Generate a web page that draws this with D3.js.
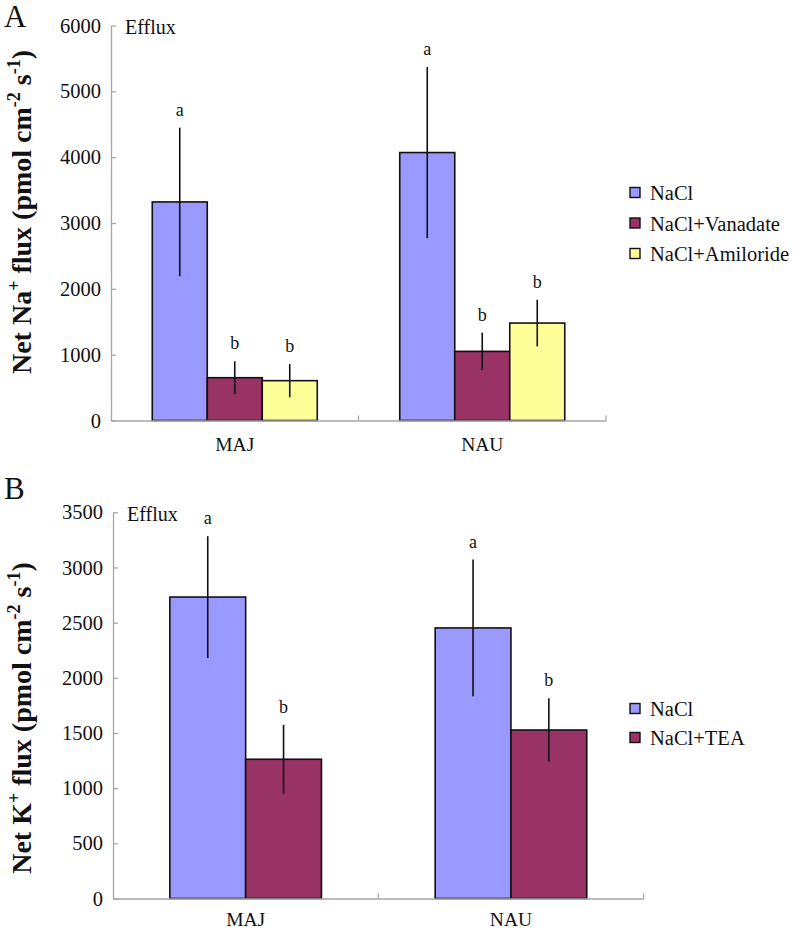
<!DOCTYPE html>
<html>
<head>
<meta charset="utf-8">
<script src="https://cdn.jsdelivr.net/npm/d3@7"></script>
<style>
  html, body { margin: 0; padding: 0; background: #fff; }
  svg { display: block; }
  text { font-family: "Liberation Serif", "Times New Roman", serif; }
</style>
</head>
<body>
<svg id="chart" width="797" height="930"></svg>
<script>
// ---------- Data ----------
const groups = ["MAJ", "NAU"];

// Panel A: Net Na+ flux
const seriesA = ["NaCl", "NaCl+Vanadate", "NaCl+Amiloride"];
const valuesA_MAJ = [3320, 650, 605];
const valuesA_NAU = [4070, 1050, 1480];
const errorsA_MAJ = [1128, 250, 252];
const errorsA_NAU = [1300, 285, 355];
const lettersA_MAJ = ["a", "b", "b"];
const lettersA_NAU = ["a", "b", "b"];
const ticksA = [0, 1000, 2000, 3000, 4000, 5000, 6000];

// Panel B: Net K+ flux
const seriesB = ["NaCl", "NaCl+TEA"];
const valuesB_MAJ = [2732, 1262];
const valuesB_NAU = [2452, 1527];
const errorsB_MAJ = [552, 312];
const errorsB_NAU = [620, 288];
const lettersB_MAJ = ["a", "b"];
const lettersB_NAU = ["a", "b"];
const ticksB = [0, 500, 1000, 1500, 2000, 2500, 3000, 3500];

const colorMap = {
  "NaCl": "#9999FF",
  "NaCl+Vanadate": "#993366",
  "NaCl+Amiloride": "#FFFF99",
  "NaCl+TEA": "#993366"
};

const svg = d3.select("#chart");
const AXIS_COLOR = "#a6a6a6";

function buildRows(series, vMAJ, vNAU, eMAJ, eNAU, lMAJ, lNAU) {
  const rows = [];
  series.forEach((s, i) => {
    rows.push({group: "MAJ", series: s, value: vMAJ[i], err: eMAJ[i], letter: lMAJ[i]});
    rows.push({group: "NAU", series: s, value: vNAU[i], err: eNAU[i], letter: lNAU[i]});
  });
  return rows;
}

function drawPanel(cfg) {
  const g = svg.append("g");
  const y = d3.scaleLinear().domain([0, cfg.ymax]).range([cfg.y0, cfg.yTop]);
  const x = d3.scaleBand().domain(groups).range([cfg.x0, cfg.x1]).paddingInner(0).paddingOuter(0);
  const xs = d3.scaleBand().domain(cfg.series).range([0, x.bandwidth()]).paddingInner(0).paddingOuter(0.75);

  // y axis
  const yAxis = d3.axisLeft(y).tickValues(cfg.ticks).tickFormat(d3.format("d"))
    .tickSizeInner(-5).tickSizeOuter(0).tickPadding(10);
  const ya = g.append("g").attr("transform", `translate(${cfg.x0},0)`).call(yAxis)
    .attr("font-family", "Liberation Serif");
  ya.select(".domain").attr("stroke", AXIS_COLOR).attr("stroke-width", 1.3);
  ya.selectAll(".tick line").attr("stroke", AXIS_COLOR).attr("stroke-width", 1.3);
  ya.selectAll(".tick text").attr("font-size", 20.5).attr("fill", "#111");

  // bars
  const rows = buildRows(cfg.series, cfg.vMAJ, cfg.vNAU, cfg.eMAJ, cfg.eNAU, cfg.lMAJ, cfg.lNAU);
  g.selectAll("rect.bar").data(rows).enter().append("rect")
    .attr("class", "bar")
    .attr("x", d => x(d.group) + xs(d.series))
    .attr("y", d => y(d.value))
    .attr("width", xs.bandwidth())
    .attr("height", d => y(0) - y(d.value))
    .attr("fill", d => colorMap[d.series])
    .attr("stroke", "#111")
    .attr("stroke-width", 1.6);

  // x axis
  const xAxis = d3.axisBottom(x).tickSize(0).tickPadding(cfg.xPad);
  const xa = g.append("g").attr("transform", `translate(0,${cfg.y0})`).call(xAxis)
    .attr("font-family", "Liberation Serif");
  xa.select(".domain").attr("stroke", AXIS_COLOR).attr("stroke-width", 1.3);
  xa.selectAll(".tick text").attr("font-size", 19.5).attr("fill", "#111");
  // boundary ticks (pointing up)
  const bounds = [x("NAU"), cfg.x1];
  g.selectAll("line.bt").data(bounds).enter().append("line")
    .attr("x1", d => d).attr("x2", d => d)
    .attr("y1", cfg.y0).attr("y2", cfg.y0 - 5)
    .attr("stroke", AXIS_COLOR).attr("stroke-width", 1.3);

  // error bars (no caps)
  g.selectAll("line.err").data(rows).enter().append("line")
    .attr("x1", d => x(d.group) + xs(d.series) + xs.bandwidth() / 2)
    .attr("x2", d => x(d.group) + xs(d.series) + xs.bandwidth() / 2)
    .attr("y1", d => y(d.value + d.err))
    .attr("y2", d => y(d.value - d.err))
    .attr("stroke", "#111").attr("stroke-width", 1.6);

  // letters
  g.selectAll("text.letter").data(rows).enter().append("text")
    .attr("x", d => x(d.group) + xs(d.series) + xs.bandwidth() / 2)
    .attr("y", d => y(d.value + d.err) - 12)
    .attr("text-anchor", "middle")
    .attr("font-size", 18).attr("fill", "#111")
    .text(d => d.letter);

  // Efflux
  g.append("text").attr("x", cfg.x0 + 14).attr("y", cfg.yTop + 8.5)
    .attr("font-size", 20).attr("fill", "#111").text("Efflux");

  // panel letter
  g.append("text").attr("x", 4).attr("y", cfg.panelY)
    .attr("font-size", 31).attr("fill", "#111").text(cfg.panel);

  // y title
  const t = g.append("text")
    .attr("transform", `translate(${cfg.titleX},${cfg.titleY}) rotate(-90)`)
    .attr("text-anchor", "middle")
    .attr("font-size", 28).attr("font-weight", "bold").attr("fill", "#111");
  t.append("tspan").text("Net " + cfg.ion);
  t.append("tspan").attr("dy", -11).attr("font-size", 18).text("+");
  t.append("tspan").attr("dy", 11).text(" flux (pmol cm");
  t.append("tspan").attr("dy", -11).attr("font-size", 18).text("-2");
  t.append("tspan").attr("dy", 11).text(" s");
  t.append("tspan").attr("dy", -11).attr("font-size", 18).text("-1");
  t.append("tspan").attr("dy", 11).text(")");

  // legend
  const lg = g.append("g");
  cfg.series.forEach((s, i) => {
    const ly = cfg.legY + i * cfg.legStep;
    lg.append("rect").attr("x", 630).attr("y", ly - 5.5).attr("width", 10).attr("height", 10)
      .attr("fill", colorMap[s]).attr("stroke", "#111").attr("stroke-width", 1.4);
    lg.append("text").attr("x", 650).attr("y", ly + 7).attr("font-size", 20.5).attr("fill", "#111").text(s);
  });
}

drawPanel({
  panel: "A", panelY: 27, ion: "Na",
  series: seriesA, vMAJ: valuesA_MAJ, vNAU: valuesA_NAU, eMAJ: errorsA_MAJ, eNAU: errorsA_NAU,
  lMAJ: lettersA_MAJ, lNAU: lettersA_NAU, ticks: ticksA, ymax: 6000,
  x0: 111, x1: 606, y0: 420.5, yTop: 25.5, xPad: 16.5,
  titleX: 31, titleY: 212,
  legY: 193, legStep: 30.5
});

drawPanel({
  panel: "B", panelY: 499, ion: "K",
  series: seriesB, vMAJ: valuesB_MAJ, vNAU: valuesB_NAU, eMAJ: errorsB_MAJ, eNAU: errorsB_NAU,
  lMAJ: lettersB_MAJ, lNAU: lettersB_NAU, ticks: ticksB, ymax: 3500,
  x0: 113, x1: 643.6, y0: 898.5, yTop: 512.3, xPad: 14,
  titleX: 31, titleY: 718,
  legY: 709, legStep: 29
});
</script>
</body>
</html>
